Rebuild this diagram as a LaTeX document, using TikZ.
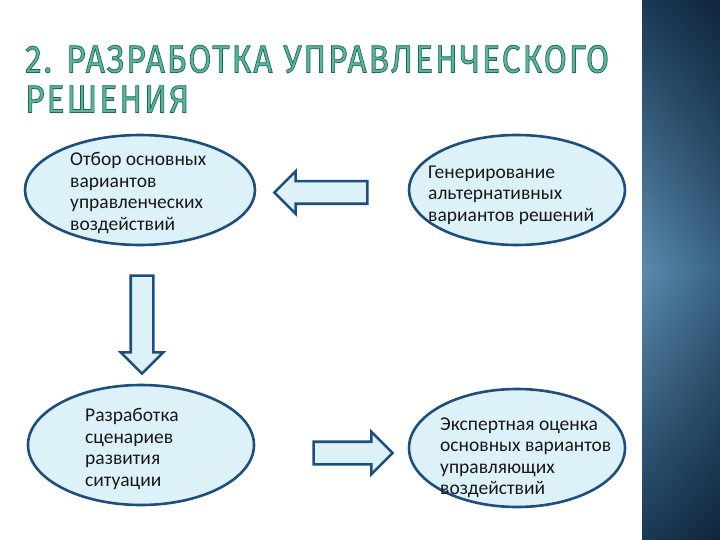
\documentclass[tikz,border=0pt]{standalone}
\usepackage{fontspec}
\setmainfont{Carlito}
\newfontfamily\titlefont[LetterSpace=6]{Fira Sans}
\usepackage{xcolor}
\usepackage{tikz}
\usetikzlibrary{shapes.geometric, shapes.arrows}
\definecolor{edge}{RGB}{30,78,126}
\definecolor{pale}{RGB}{221,241,248}
\definecolor{teal1}{RGB}{88,182,156}
\definecolor{topleft}{RGB}{26,56,84}
\definecolor{topright}{RGB}{16,38,60}
\definecolor{midleft}{RGB}{90,138,172}
\definecolor{midright}{RGB}{58,100,134}
\newcommand\outlinetext{\special{pdf:literal direct 2 Tr 0.8 w 0.12 0.40 0.36 RG}}
\newcommand\plaintext{\special{pdf:literal direct 0 Tr}}

\begin{document}
\begin{tikzpicture}[x=1pt, y=-1pt,
  oval/.style={ellipse, draw=edge, fill=pale, line width=2.6pt, inner sep=0pt},
  txt/.style={anchor=west, align=left, inner sep=0pt, text=black!90,
              font=\fontsize{19.5}{21.5}\selectfont},
  blockarr/.style={single arrow, draw=edge, fill=pale, line width=2.6pt, inner sep=0pt,
                   text height=20pt, text depth=0pt, single arrow head extend=10pt,
                   single arrow head indent=0pt}]
  \useasboundingbox (0,0) rectangle (720,540);
  \fill[white] (0,0) rectangle (720,540);
  \foreach \i in {0,...,25} {
    \pgfmathsetmacro\p{100-\i*4}
    \shade[top color=topleft!\p!topright, bottom color=topleft!\p!topright,
           middle color=midleft!\p!midright] (642+3*\i,0) rectangle (645.4+3*\i,540);
  }
  \node[anchor=north west, inner sep=0pt, align=left, text=teal1, xscale=0.858,
        font=\titlefont\fontsize{39}{40}\selectfont] (title) at (25,45)
        {\outlinetext 2. РАЗРАБОТКА УПРАВЛЕНЧЕСКОГО\\\outlinetext РЕШЕНИЯ\plaintext};
  \foreach \x/\y/\w/\h/\id in {140/190/230/110/otbor, 517/190/216/110/genr,
                               141/445/226/120/razr, 517/448/216/118/eksp} {
    \node[oval, minimum width=\w, minimum height=\h] (\id) at (\x,\y) {};
  }
  \node[txt] (otbor-t) at (70,193) {Отбор основных\\вариантов\\управленческих\\воздействий};
  \node[txt] (genr-t) at (428,195) {Генерирование\\альтернативных\\вариантов решений};
  \node[txt] (razr-t) at (85,449) {Разработка\\сценариев\\развития\\ситуации};
  \node[txt] (eksp-t) at (440,458) {Экспертная оценка\\основных вариантов\\управляющих\\воздействий};
  \node[blockarr, shape border rotate=180, minimum height=93pt] (toleft) at (326.5,192.5) {};
  \node[blockarr, rotate=-90, minimum height=98pt] (todown) at (142,319) {};
  \node[blockarr, minimum height=79pt] (toright) at (347.5,453) {};
\end{tikzpicture}
\end{document}
